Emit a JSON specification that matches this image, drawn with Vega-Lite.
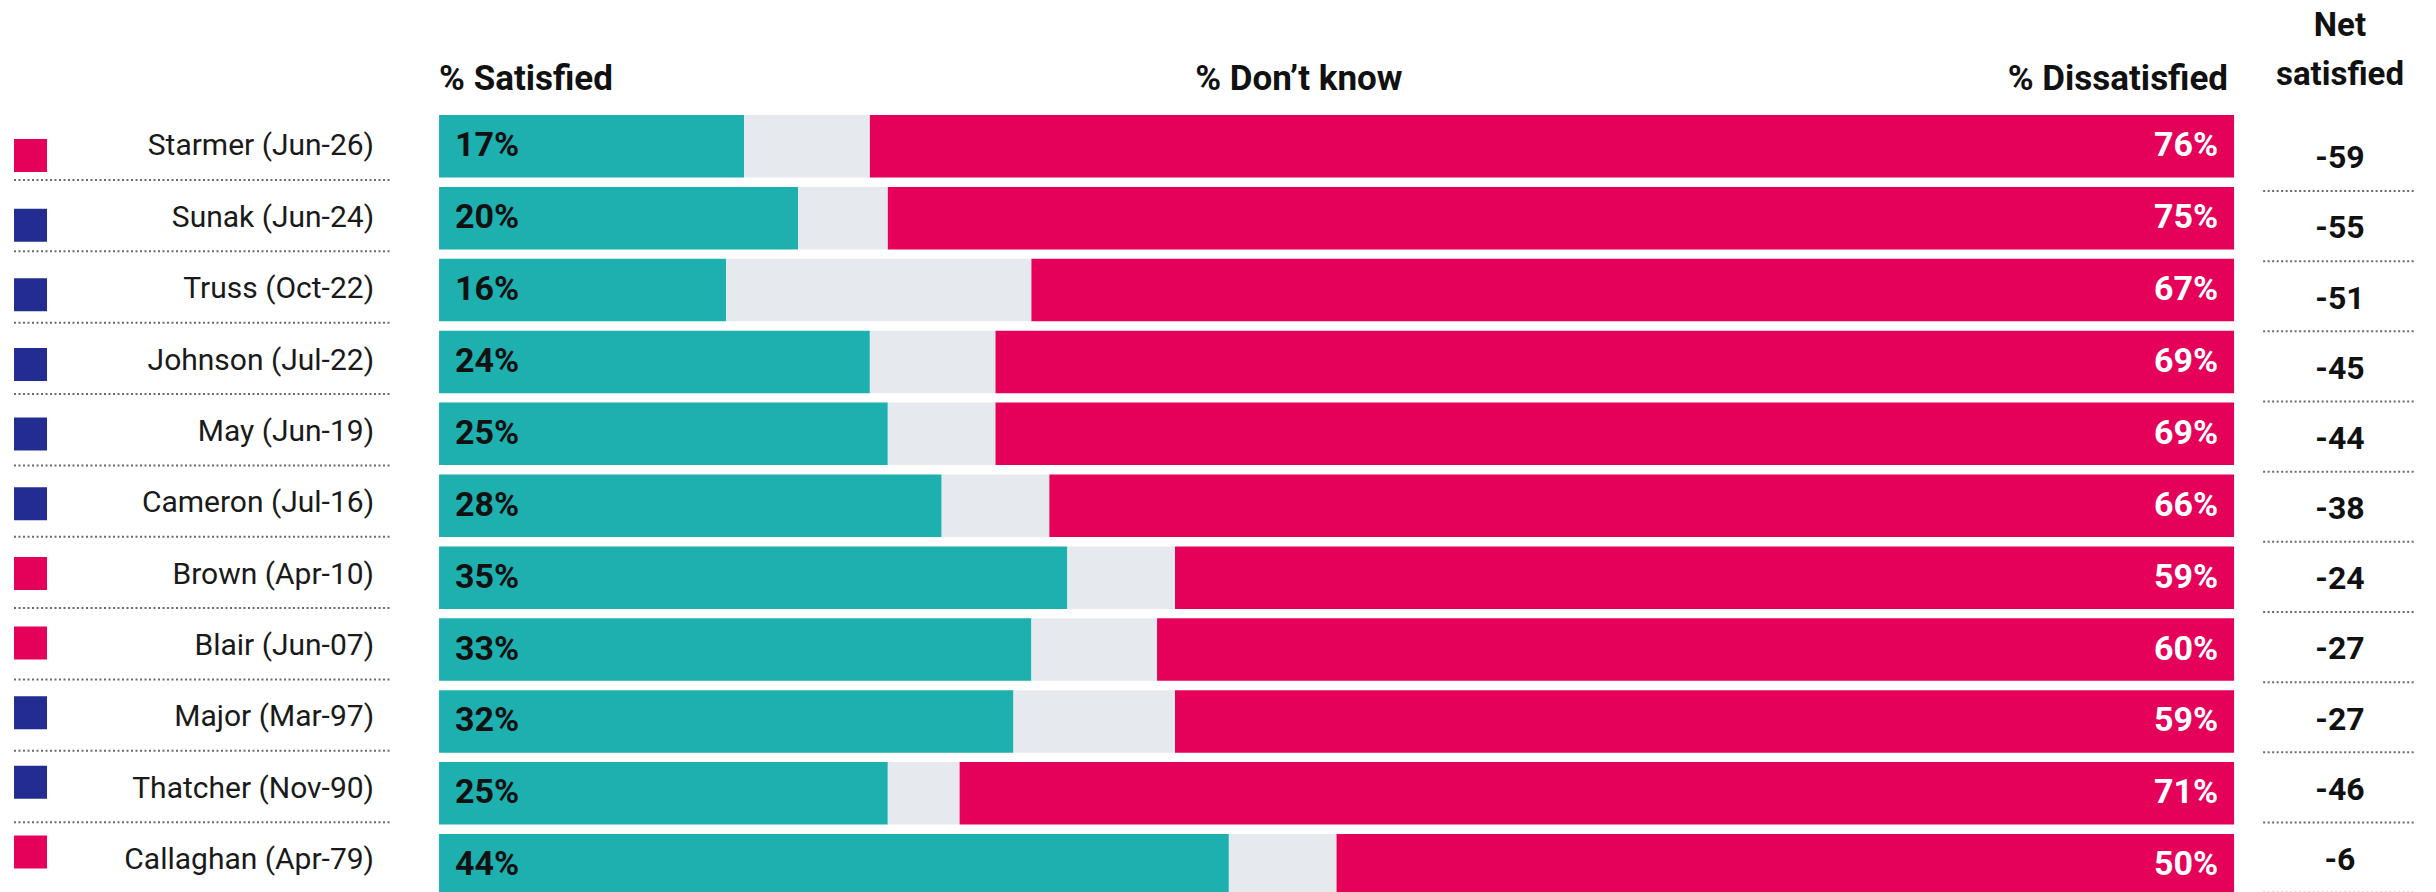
{
  "$schema": "https://vega.github.io/schema/vega-lite/v6.json",
  "width": 2436,
  "height": 892,
  "autosize": "none",
  "padding": 0,
  "background": "white",
  "config": {"view": {"stroke": null}, "text": {"font": "Roboto"}},
  "data": {"name": "pm"},
  "datasets": {
    "pm": [
      {"name": "Starmer (Jun-26)", "party": "Labour", "sat": 0.17, "dk": 0.07, "dis": 0.76, "net": "-59"},
      {"name": "Sunak (Jun-24)", "party": "Conservative", "sat": 0.20, "dk": 0.05, "dis": 0.75, "net": "-55"},
      {"name": "Truss (Oct-22)", "party": "Conservative", "sat": 0.16, "dk": 0.17, "dis": 0.67, "net": "-51"},
      {"name": "Johnson (Jul-22)", "party": "Conservative", "sat": 0.24, "dk": 0.07, "dis": 0.69, "net": "-45"},
      {"name": "May (Jun-19)", "party": "Conservative", "sat": 0.25, "dk": 0.06, "dis": 0.69, "net": "-44"},
      {"name": "Cameron (Jul-16)", "party": "Conservative", "sat": 0.28, "dk": 0.06, "dis": 0.66, "net": "-38"},
      {"name": "Brown (Apr-10)", "party": "Labour", "sat": 0.35, "dk": 0.06, "dis": 0.59, "net": "-24"},
      {"name": "Blair (Jun-07)", "party": "Labour", "sat": 0.33, "dk": 0.07, "dis": 0.60, "net": "-27"},
      {"name": "Major (Mar-97)", "party": "Conservative", "sat": 0.32, "dk": 0.09, "dis": 0.59, "net": "-27"},
      {"name": "Thatcher (Nov-90)", "party": "Conservative", "sat": 0.25, "dk": 0.04, "dis": 0.71, "net": "-46"},
      {"name": "Callaghan (Apr-79)", "party": "Labour", "sat": 0.44, "dk": 0.06, "dis": 0.50, "net": "-6"}
    ]
  },
  "resolve": {"scale": {"color": "independent", "y": "independent"}},
  "layer": [
    {
      "layer": [
        {
          "transform": [{"fold": ["sat", "dk", "dis"], "as": ["seg", "share"]}],
          "mark": {"type": "bar", "clip": true},
          "encoding": {
            "y": {
              "field": "name", "type": "nominal", "axis": null,
              "scale": {
                "domain": ["hdr", "Starmer (Jun-26)", "Sunak (Jun-24)", "Truss (Oct-22)", "Johnson (Jul-22)", "May (Jun-19)", "Cameron (Jul-16)", "Brown (Apr-10)", "Blair (Jun-07)", "Major (Mar-97)", "Thatcher (Nov-90)", "Callaghan (Apr-79)"],
                "range": [38.4, 901.2],
                "paddingInner": 0.1307,
                "paddingOuter": 0.0654
              }
            },
            "x": {
              "field": "share", "type": "quantitative", "stack": "zero", "axis": null,
              "scale": {"domain": [-0.2446, 1.1125], "nice": false, "zero": false}
            },
            "color": {
              "field": "seg", "type": "nominal", "legend": null,
              "scale": {"domain": ["sat", "dk", "dis"], "range": ["#1eafaf", "#e6e9ee", "#e5005a"]}
            },
            "order": {"field": "seg", "sort": "descending"}
          }
        },
        {
          "mark": {"type": "text", "align": "left", "baseline": "middle", "dx": 16, "fontSize": 34, "fontWeight": "bold", "color": "#111111"},
          "encoding": {
            "y": {"field": "name", "type": "nominal", "axis": null},
            "x": {"datum": 0},
            "text": {"field": "sat", "type": "quantitative", "format": ".0%"}
          }
        },
        {
          "mark": {"type": "text", "align": "right", "baseline": "middle", "dx": -16, "fontSize": 34, "fontWeight": "bold", "color": "#ffffff"},
          "encoding": {
            "y": {"field": "name", "type": "nominal", "axis": null},
            "x": {"datum": 1},
            "text": {"field": "dis", "type": "quantitative", "format": ".0%"}
          }
        },
        {
          "data": {"values": [{"label": "% Satisfied"}]},
          "mark": {"type": "text", "align": "left", "baseline": "middle", "fontSize": 35, "fontWeight": "bold", "color": "#111111", "yOffset": 5},
          "encoding": {"y": {"datum": "hdr"}, "x": {"datum": 0}, "text": {"field": "label"}}
        },
        {
          "data": {"values": [{"label": "% Don’t know"}]},
          "mark": {"type": "text", "align": "center", "baseline": "middle", "fontSize": 35, "fontWeight": "bold", "color": "#111111", "yOffset": 5},
          "encoding": {"y": {"datum": "hdr"}, "x": {"datum": 0.479}, "text": {"field": "label"}}
        },
        {
          "data": {"values": [{"label": "% Dissatisfied"}]},
          "mark": {"type": "text", "align": "right", "baseline": "middle", "dx": -6, "fontSize": 35, "fontWeight": "bold", "color": "#111111", "yOffset": 5},
          "encoding": {"y": {"datum": "hdr"}, "x": {"datum": 1}, "text": {"field": "label"}}
        },
        {
          "data": {"values": [{"label": "Net\nsatisfied"}]},
          "mark": {"type": "text", "align": "center", "baseline": "middle", "lineBreak": "\n", "lineHeight": 49, "fontSize": 33, "fontWeight": "bold", "color": "#111111", "yOffset": -48},
          "encoding": {"y": {"datum": "hdr"}, "x": {"datum": 1.059}, "text": {"field": "label"}}
        }
      ]
    },
    {
      "layer": [
        {
          "mark": {"type": "text", "align": "right", "baseline": "middle", "fontSize": 30, "color": "#1a1a1a"},
          "encoding": {
            "y": {
              "field": "name", "type": "nominal", "axis": null,
              "scale": {
                "domain": ["Starmer (Jun-26)", "Sunak (Jun-24)", "Truss (Oct-22)", "Johnson (Jul-22)", "May (Jun-19)", "Cameron (Jul-16)", "Brown (Apr-10)", "Blair (Jun-07)", "Major (Mar-97)", "Thatcher (Nov-90)", "Callaghan (Apr-79)"],
                "range": [110.8, 895.7], "paddingInner": 0, "paddingOuter": 0
              }
            },
            "x": {"datum": -0.0362},
            "text": {"field": "name", "type": "nominal"}
          }
        },
        {
          "mark": {"type": "rule", "strokeDash": [2, 2.5], "strokeWidth": 2, "color": "#6b6b6b", "yOffset": 33.5},
          "encoding": {
            "y": {"field": "name", "type": "nominal", "axis": null},
            "x": {"datum": -0.2368},
            "x2": {"datum": -0.0273}
          }
        }
      ]
    },
    {
      "mark": {"type": "point", "shape": "square", "filled": true, "size": 1089, "opacity": 1, "strokeWidth": 0},
      "encoding": {
        "y": {
          "field": "name", "type": "nominal", "axis": null,
          "scale": {
            "domain": ["Starmer (Jun-26)", "Sunak (Jun-24)", "Truss (Oct-22)", "Johnson (Jul-22)", "May (Jun-19)", "Cameron (Jul-16)", "Brown (Apr-10)", "Blair (Jun-07)", "Major (Mar-97)", "Thatcher (Nov-90)", "Callaghan (Apr-79)"],
            "range": [120.7, 886.8], "paddingInner": 0, "paddingOuter": 0
          }
        },
        "x": {"datum": -0.2276},
        "color": {
          "field": "party", "type": "nominal", "legend": null,
          "scale": {"domain": ["Labour", "Conservative"], "range": ["#e5005a", "#232d91"]}
        }
      }
    },
    {
      "layer": [
        {
          "mark": {"type": "text", "align": "center", "baseline": "middle", "fontSize": 32, "fontWeight": "bold", "color": "#111111"},
          "encoding": {
            "y": {
              "field": "name", "type": "nominal", "axis": null,
              "scale": {
                "domain": ["Starmer (Jun-26)", "Sunak (Jun-24)", "Truss (Oct-22)", "Johnson (Jul-22)", "May (Jun-19)", "Cameron (Jul-16)", "Brown (Apr-10)", "Blair (Jun-07)", "Major (Mar-97)", "Thatcher (Nov-90)", "Callaghan (Apr-79)"],
                "range": [123.2, 895.1], "paddingInner": 0, "paddingOuter": 0
              }
            },
            "x": {"datum": 1.059},
            "text": {"field": "net", "type": "nominal"}
          }
        },
        {
          "mark": {"type": "rule", "strokeDash": [2, 2.5], "strokeWidth": 2, "color": "#6b6b6b", "yOffset": 32.7},
          "encoding": {
            "y": {"field": "name", "type": "nominal", "axis": null},
            "x": {"datum": 1.0162},
            "x2": {"datum": 1.1014}
          }
        }
      ]
    }
  ]
}
